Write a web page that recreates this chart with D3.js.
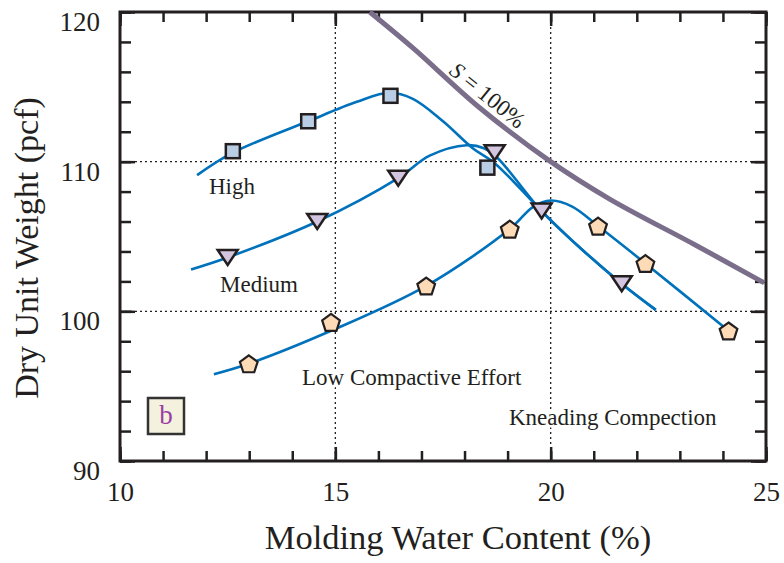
<!DOCTYPE html>
<html>
<head>
<meta charset="utf-8">
<script src="https://cdn.jsdelivr.net/npm/d3@7"></script>
<style>
body { margin: 0; background: #fff; }
text { font-family: "Liberation Serif", "Times New Roman", serif; fill: #231f20; }
</style>
</head>
<body>
<svg id="chart" width="784" height="563"></svg>
<script>
// values
var xTicks = [10, 15, 20, 25];
var yTicks = [90, 100, 110, 120];
var xMinor = d3.range(10, 26, 1);
var yMinor = d3.range(90, 121, 2);

var highPoints = [[12.62, 110.7], [14.37, 112.7], [16.28, 114.4], [18.53, 109.6]];
var highCurve = [[11.79, 109.1], [12.62, 110.6], [14.37, 112.7], [15.5, 114.0], [16.25, 114.6], [16.8, 114.2],
                 [17.5, 112.7], [18.19, 110.9], [18.7, 109.9], [19.79, 106.7], [20.7, 104.2], [21.65, 101.85], [22.44, 100.1]];

var mediumPoints = [[12.5, 103.6], [14.58, 106.0], [16.46, 108.9], [18.7, 110.6], [19.79, 106.7], [21.65, 101.85]];
var mediumCurve = [[11.65, 102.8], [12.5, 103.6], [14.58, 106.0], [16.46, 108.9], [17.19, 110.4], [18.05, 111.1],
                   [18.45, 110.9], [18.75, 110.3], [19.79, 106.7], [20.7, 104.2], [21.65, 101.85], [22.44, 100.1]];

var lowPoints = [[12.99, 96.5], [14.9, 99.27], [17.11, 101.7], [19.05, 105.5], [21.1, 105.7], [22.2, 103.2], [24.13, 98.7]];
var lowCurve = [[12.18, 95.8], [12.99, 96.5], [14.9, 98.7], [17.11, 101.7], [19.05, 105.5], [19.6, 107.0],
                [20.0, 107.4], [20.5, 107.0], [21.1, 105.7], [22.2, 103.2], [24.13, 98.7]];

var saturationCurve = [[15.8, 120], [16.8, 117.6], [18.35, 113.6], [20.0, 110.0], [21.37, 107.5],
                       [23.38, 104.4], [24.96, 101.9]];

var svg = d3.select('#chart');

var plotLeft = 120, plotRight = 766, plotTop = 12, plotBottom = 461;

var x = d3.scaleLinear().domain([10, 25]).range([plotLeft, plotRight]);
var y = d3.scaleLinear().domain([90, 120]).range([plotBottom, plotTop]);

var ink = '#231f20';
var blue = '#0072bc';

// dotted grid lines
svg.append('g').selectAll('line.vgrid')
    .data([15, 20]).enter().append('line')
    .attr('x1', d => x(d)).attr('x2', d => x(d))
    .attr('y1', plotTop).attr('y2', plotBottom)
    .style('stroke', ink).style('stroke-width', 1.3).style('stroke-dasharray', '2,3');

svg.append('g').selectAll('line.hgrid')
    .data([100, 110]).enter().append('line')
    .attr('x1', plotLeft).attr('x2', plotRight)
    .attr('y1', d => y(d)).attr('y2', d => y(d))
    .style('stroke', ink).style('stroke-width', 1.3).style('stroke-dasharray', '2,3');

// axes with inward ticks
function styleAxis(g)
{
    g.select('.domain').remove();
    g.selectAll('line').style('stroke', ink).style('stroke-width', 2.5);
}

svg.append('g').attr('transform', 'translate(0,' + plotBottom + ')')
    .call(d3.axisBottom(x).tickValues(xMinor).tickSize(-10).tickFormat(''))
    .call(styleAxis);
svg.append('g').attr('transform', 'translate(0,' + plotTop + ')')
    .call(d3.axisTop(x).tickValues(xMinor).tickSize(-10).tickFormat(''))
    .call(styleAxis);
svg.append('g').attr('transform', 'translate(' + plotLeft + ',0)')
    .call(d3.axisLeft(y).tickValues(yMinor).tickSize(-11).tickFormat(''))
    .call(styleAxis);
svg.append('g').attr('transform', 'translate(' + plotRight + ',0)')
    .call(d3.axisRight(y).tickValues(yMinor).tickSize(-11).tickFormat(''))
    .call(styleAxis);

var xAxis = svg.append('g').attr('transform', 'translate(0,' + plotBottom + ')')
    .call(d3.axisBottom(x).tickValues(xTicks).tickSize(-14).tickPadding(21).tickFormat(d3.format('d')))
    .call(styleAxis);
xAxis.selectAll('text').style('font-size', '27px').style('fill', ink);

svg.append('g').attr('transform', 'translate(0,' + plotTop + ')')
    .call(d3.axisTop(x).tickValues(xTicks).tickSize(-14).tickFormat(''))
    .call(styleAxis);

var yAxis = svg.append('g').attr('transform', 'translate(' + plotLeft + ',0)')
    .call(d3.axisLeft(y).tickValues(yTicks).tickSize(-15).tickPadding(20).tickFormat(d3.format('d')))
    .call(styleAxis);
yAxis.selectAll('text').style('font-size', '27px').style('fill', ink).attr('dy', '0.68em');

svg.append('g').attr('transform', 'translate(' + plotRight + ',0)')
    .call(d3.axisRight(y).tickValues(yTicks).tickSize(-15).tickFormat(''))
    .call(styleAxis);

// frame
svg.append('rect')
    .attr('x', plotLeft).attr('y', plotTop)
    .attr('width', plotRight - plotLeft).attr('height', plotBottom - plotTop)
    .style('fill', 'none').style('stroke', ink).style('stroke-width', 3);

// curves
var line = d3.line()
    .x(d => x(d[0])).y(d => y(d[1]))
    .curve(d3.curveCatmullRom.alpha(0.5));

svg.append('path').datum(saturationCurve).attr('d', line)
    .style('fill', 'none').style('stroke', '#7a6e8a').style('stroke-width', 5);

[highCurve, mediumCurve, lowCurve].forEach(function(c)
{
    svg.append('path').datum(c).attr('d', line)
        .style('fill', 'none').style('stroke', blue).style('stroke-width', 2.6);
});

// text labels (white halo hides grid dots under them)
function label(tx, ty, s)
{
    return svg.append('text')
        .attr('x', tx).attr('y', ty)
        .style('font-size', '23px')
        .style('stroke', '#fff').style('stroke-width', 5).style('paint-order', 'stroke')
        .text(s);
}

label(209, 194, 'High');
label(220, 292, 'Medium');
label(302, 385, 'Low Compactive Effort');
label(509, 425, 'Kneading Compection');

var sLabel = svg.append('text')
    .attr('transform', 'translate(488,95) rotate(39)')
    .attr('text-anchor', 'middle')
    .attr('dy', '0.35em')
    .style('font-size', '23px');
sLabel.append('tspan').style('font-style', 'italic').text('S');
sLabel.append('tspan').text(' = 100%');

// markers
var markerFill = { square: '#b9cde5', tri: '#d3c5df', pent: '#fddbb6' };

function pentagonPath(r)
{
    var pts = d3.range(5).map(function(i)
    {
        var a = -Math.PI / 2 + i * 2 * Math.PI / 5;
        return [r * Math.cos(a), r * Math.sin(a) + 1];
    });
    return 'M' + pts.join('L') + 'Z';
}

svg.append('g').selectAll('rect.high')
    .data(highPoints).enter().append('rect')
    .attr('x', d => x(d[0]) - 7).attr('y', d => y(d[1]) - 7)
    .attr('width', 14).attr('height', 14)
    .style('fill', markerFill.square).style('stroke', ink).style('stroke-width', 2.5);

svg.append('g').selectAll('path.medium')
    .data(mediumPoints).enter().append('path')
    .attr('transform', d => 'translate(' + x(d[0]) + ',' + y(d[1]) + ')')
    .attr('d', 'M-10,-7.5L10,-7.5L0,7.5Z')
    .style('fill', markerFill.tri).style('stroke', ink).style('stroke-width', 2.5)
    .style('stroke-linejoin', 'miter');

svg.append('g').selectAll('path.low')
    .data(lowPoints).enter().append('path')
    .attr('transform', d => 'translate(' + x(d[0]) + ',' + y(d[1]) + ')')
    .attr('d', pentagonPath(9.3))
    .style('fill', markerFill.pent).style('stroke', ink).style('stroke-width', 2.2);

// panel letter
svg.append('rect')
    .attr('x', 148).attr('y', 398).attr('width', 36).attr('height', 36)
    .style('fill', '#f4f1df').style('stroke', '#333').style('stroke-width', 2.5);
svg.append('text')
    .attr('x', 166).attr('y', 424)
    .attr('text-anchor', 'middle')
    .style('font-size', '27px').style('fill', '#9b3fa3')
    .text('b');

// axis titles
svg.append('text')
    .attr('x', 458).attr('y', 549)
    .attr('text-anchor', 'middle')
    .style('font-size', '34.5px')
    .text('Molding Water Content (%)');

svg.append('text')
    .attr('transform', 'translate(38,248) rotate(-90)')
    .attr('text-anchor', 'middle')
    .style('font-size', '34px')
    .text('Dry Unit Weight (pcf)');
</script>
</body>
</html>
